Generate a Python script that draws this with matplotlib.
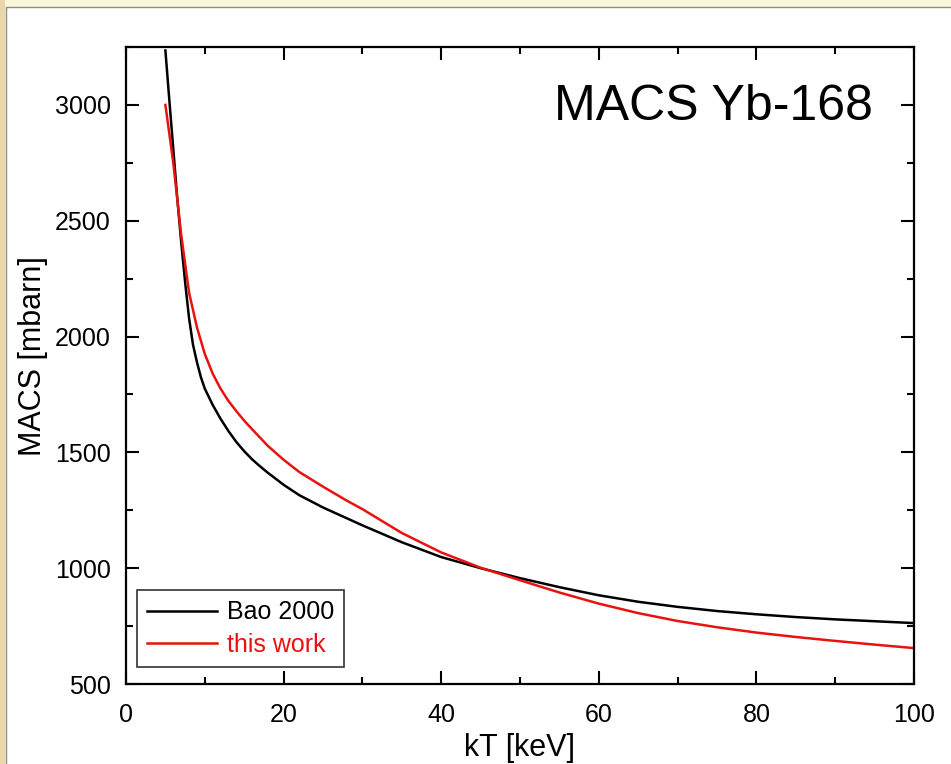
import matplotlib.pyplot as plt
from matplotlib.patches import Rectangle
from matplotlib.ticker import MultipleLocator

plt.rcParams['font.family'] = ['Liberation Sans', 'DejaVu Sans']

# kT [keV] and MACS [mbarn]
kt_bao = [5, 5.5, 6, 6.5, 7, 7.5, 8, 8.5, 9, 9.5, 10, 11, 12, 13, 14, 15, 16,
          17, 18, 20, 22, 25, 30, 35, 40, 45, 50, 55, 60, 65, 70, 75, 80, 85,
          90, 95, 100]
macs_bao = [3235, 3020, 2810, 2600, 2410, 2235, 2080, 1965, 1890, 1825, 1775,
            1705, 1645, 1592, 1545, 1505, 1470, 1440, 1412, 1360, 1315, 1262,
            1185, 1112, 1048, 1000, 957, 918, 883, 855, 833, 815, 801, 789,
            779, 771, 763]

kt_this = [5, 6, 7, 8, 9, 10, 11, 12, 13, 14, 15, 16, 18, 20, 22, 25, 28, 30,
           35, 40, 45, 50, 55, 60, 65, 70, 75, 80, 85, 90, 95, 100]
macs_this = [3000, 2750, 2440, 2190, 2040, 1925, 1840, 1775, 1722, 1678, 1637,
             1600, 1528, 1468, 1415, 1352, 1292, 1255, 1152, 1068, 1002, 948,
             895, 847, 806, 772, 745, 722, 703, 686, 670, 655]

W, H = 951, 764
fig = plt.figure(figsize=(W / 100, H / 100), dpi=100, facecolor='#f8f7da')

# Rahmen / Hintergrund (hinter den Achsen)
fig.patches.append(Rectangle((0, 0), 5 / W, 1, transform=fig.transFigure,
                             facecolor='#ead6aa', edgecolor='none', zorder=-10))
fig.patches.append(Rectangle((6 / W, -0.01), 1, 1 - 7 / H + 0.01, transform=fig.transFigure,
                             facecolor='white', edgecolor='#8c8c80', lw=1, zorder=-10))

ax = fig.add_axes([126 / W, 1 - 684 / H, (914 - 126) / W, (684 - 47) / H])
ax.set_facecolor('none')

ax.plot(kt_bao, macs_bao, color='black', lw=1.8, label='Bao 2000')
ax.plot(kt_this, macs_this, color='#e8120f', lw=1.8, label='this work')

ax.set_xlim(0, 100)
ax.set_ylim(500, 3250)
ax.xaxis.set_major_locator(MultipleLocator(20))
ax.xaxis.set_minor_locator(MultipleLocator(10))
ax.yaxis.set_major_locator(MultipleLocator(500))
ax.yaxis.set_minor_locator(MultipleLocator(250))
ax.tick_params(which='both', direction='in', top=True, right=True, width=1.5,
               labelsize=18)
ax.tick_params(axis='y', which='both', pad=11)
ax.tick_params(axis='x', which='both', pad=14)
ax.tick_params(which='major', length=9.5)
ax.tick_params(which='minor', length=5)
for s in ax.spines.values():
    s.set_linewidth(1.6)

ax.set_xlabel('kT [keV]', fontsize=22)
ax.set_ylabel('MACS [mbarn]', fontsize=22)
ax.xaxis.set_label_coords(0.5, -0.077)
ax.yaxis.set_label_coords(-0.099, 0.515)

ax.text(0.948, 0.906, 'MACS Yb-168', transform=ax.transAxes, fontsize=36,
        ha='right', va='center')

leg = ax.legend(loc='lower left', bbox_to_anchor=(11 / 788, 17 / 637),
                borderaxespad=0, fontsize=18, handlelength=2.8, frameon=True,
                fancybox=False, edgecolor='black', borderpad=0.4,
                handletextpad=0.4, labelspacing=0.35)
leg.get_frame().set_linewidth(1.2)
for t, l in zip(leg.get_texts(), leg.get_lines()):
    t.set_color(l.get_color())

fig.savefig('out.png', dpi=100, facecolor=fig.get_facecolor())
